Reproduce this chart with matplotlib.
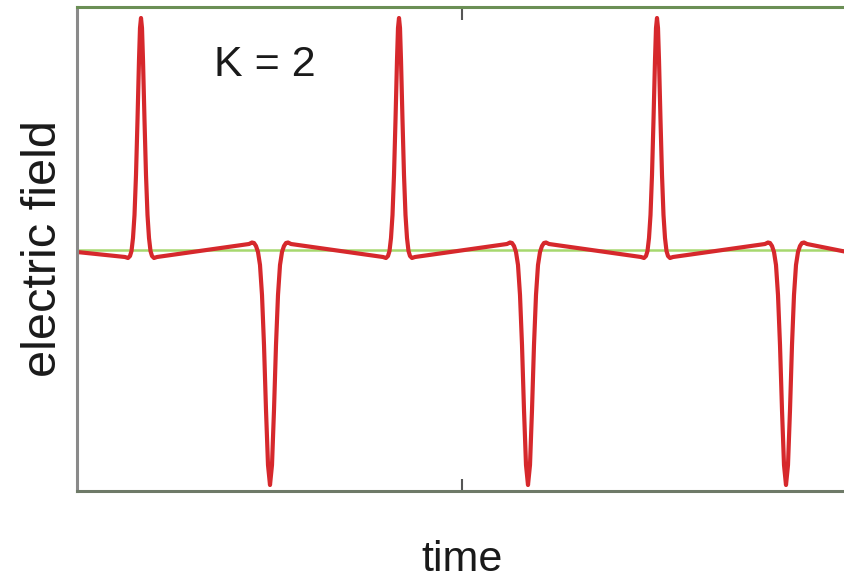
import numpy as np
import matplotlib
matplotlib.use('Agg')
import matplotlib.pyplot as plt

# pulse centres (time axis: 0 .. 770)
POS_CENTRES = [64, 322, 580]
NEG_CENTRES = [193, 451, 709]

# shape of the positive pulse around its centre
POS_DX    = [-16, -13, -11, -9.5, -8, -6.5, -5, -3.5, -2, -1, 0, 1, 2, 3.5, 5, 6.5, 8, 9.5, 11, 13, 16]
POS_FIELD = [-7, -8, -6, -1, 12, 35, 75, 130, 190, 222, 232, 222, 190, 130, 75, 35, 12, -1, -6, -8, -7]

# shape of the negative pulse around its centre
NEG_DX    = [-21, -18, -16, -14, -12, -10, -8, -6, -4, -2, 0, 2, 4, 6, 8, 10, 12, 14, 16, 18, 21]
NEG_FIELD = [6, 7.5, 7, 4, -2, -15, -45, -95, -160, -215, -235, -215, -160, -95, -45, -15, -2, 4, 7, 7.5, 6]

START = (0, -2)
END = (770, -2)

T_TICKS = [385]
T_MAX = 770
Y_MIN, Y_MAX = -241, 243

COLORS = {
    'field': '#d6282c',
    'zero': '#a6d86e',
    'top': '#6b8f55',
    'left': '#8a8a8a',
    'bottom': '#6e7a68',
}


def build_trace():
    pulses = [(c, POS_DX, POS_FIELD) for c in POS_CENTRES] + \
             [(c, NEG_DX, NEG_FIELD) for c in NEG_CENTRES]
    pulses.sort(key=lambda p: p[0])
    t = [START[0]]
    e = [START[1]]
    for c, dx, f in pulses:
        t.extend(c + np.array(dx, dtype=float))
        e.extend(f)
    t.append(END[0])
    e.append(END[1])
    return np.array(t), np.array(e)


def main():
    fig = plt.figure(figsize=(8.45, 5.84), dpi=100)
    ax = fig.add_axes([77 / 845, 1 - 491 / 584, 770 / 845, 484 / 584])

    t, e = build_trace()
    ax.axhline(0, color=COLORS['zero'], linewidth=1.8, zorder=1)
    ax.plot(t, e, color=COLORS['field'], linewidth=3.0,
            solid_joinstyle='round', solid_capstyle='round', zorder=2)

    ax.set_xlim(0, T_MAX)
    ax.set_ylim(Y_MIN, Y_MAX)
    ax.set_xticks(T_TICKS)
    ax.set_xticklabels([])
    ax.set_yticks([])
    ax.tick_params(axis='x', direction='in', length=9, width=1.5,
                   colors='#555555', top=True)

    for side in ['top', 'left', 'bottom']:
        ax.spines[side].set_color(COLORS[side])
        ax.spines[side].set_linewidth(2.2)
    ax.spines['right'].set_visible(False)

    font = ['Liberation Sans', 'DejaVu Sans']
    ax.text(188, 185, 'K = 2', family=font, fontsize=31,
            ha='center', va='center', color='#1a1a1a')
    ax.set_xlabel('time', family=font, fontsize=31, color='#1a1a1a', labelpad=32)
    ax.set_ylabel('electric field', family=font, fontsize=35,
                  color='#1a1a1a', labelpad=8)

    fig.savefig('out.png', dpi=100)
    plt.close(fig)


if __name__ == '__main__':
    main()
